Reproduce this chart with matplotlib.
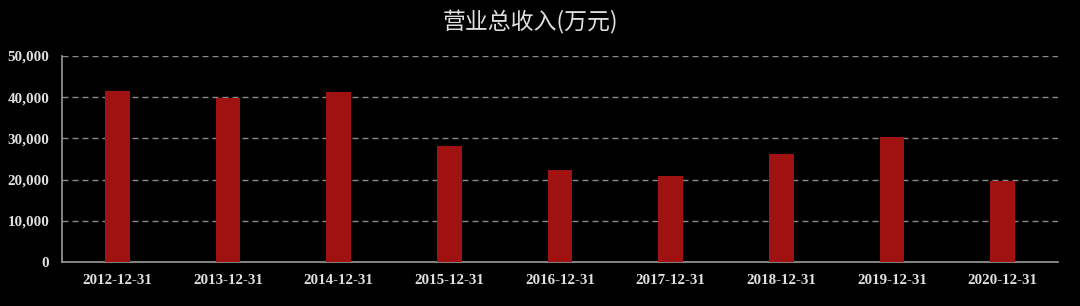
import matplotlib
matplotlib.use("Agg")
import matplotlib.pyplot as plt
from matplotlib.ticker import FuncFormatter

categories = ["2012-12-31", "2013-12-31", "2014-12-31", "2015-12-31", "2016-12-31",
              "2017-12-31", "2018-12-31", "2019-12-31", "2020-12-31"]
revenue = [41500, 39800, 41300, 28200, 22400, 20800, 26100, 30300, 19700]
title = "营业总收入(万元)"

plt.rcParams['font.family'] = ['Liberation Serif', 'Noto Sans CJK SC', 'DejaVu Sans']

fig = plt.figure(figsize=(10.8, 3.06), dpi=100, facecolor='black')
ax = fig.add_axes([62/1080, 1-262/306, (1058-62)/1080, (262-56)/306])
ax.set_facecolor('black')

x = list(range(len(categories)))
ax.bar(x, revenue, width=0.225, color='#A01212', zorder=3)
ax.set_xlim(-0.5, len(categories) - 0.5)
ax.set_ylim(0, 50000)
ax.set_yticks([0, 10000, 20000, 30000, 40000, 50000])
ax.yaxis.set_major_formatter(FuncFormatter(lambda v, p: f"{int(v):,}"))
ax.set_xticks(x)
ax.set_xticklabels(categories)

ax.tick_params(axis='both', length=0, colors='#e0e0e0', labelsize=10.8)
ax.tick_params(axis='x', pad=9)
ax.tick_params(axis='y', pad=9)
for lab in ax.get_xticklabels() + ax.get_yticklabels():
    lab.set_fontweight('bold')

ax.grid(axis='y', color='#8a8a8a', linestyle=(0, (4.3, 2.9)), linewidth=1.0, zorder=1)
for s in ['top', 'right']:
    ax.spines[s].set_visible(False)
for s in ['left', 'bottom']:
    ax.spines[s].set_color('#9a9a9a')
    ax.spines[s].set_linewidth(1.2)

fig.text(530/1080, 1-22/306, title, ha='center', va='center', color='#e0e0e0',
         fontsize=16.5, family=['Noto Sans CJK SC', 'DejaVu Sans'])

fig.savefig("out.png", dpi=100, facecolor='black')
